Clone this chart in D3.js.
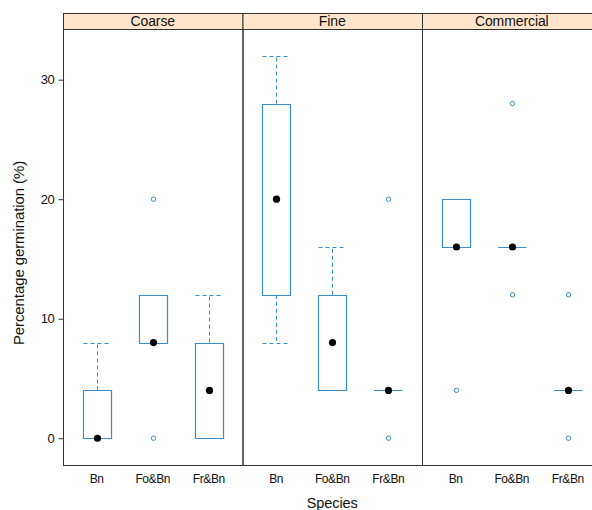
<!DOCTYPE html>
<html>
<head>
<meta charset="utf-8">
<script src="https://cdn.jsdelivr.net/npm/d3@7"></script>
<style>
  html, body { margin: 0; padding: 0; background: #fff; overflow: hidden; }
  svg { display: block; font-family: "Liberation Sans", Arial, sans-serif; }
</style>
</head>
<body>
<svg id="chart" width="592" height="510"></svg>
<script>
// Panels (seed type) and species within each panel
const panels = ["Coarse", "Fine", "Commercial"];
const species = ["Bn", "Fo&Bn", "Fr&Bn"];

// Box statistics per panel, one entry per species: [lower whisker, Q1, median, Q3, upper whisker]
const coarseStats     = [[0, 0, 0, 4, 8], [8, 8, 8, 12, 12], [0, 0, 4, 8, 12]];
const fineStats       = [[8, 12, 20, 28, 32], [4, 4, 8, 12, 16], [4, 4, 4, 4, 4]];
const commercialStats = [[16, 16, 16, 20, 20], [16, 16, 16, 16, 16], [4, 4, 4, 4, 4]];

// Outlying observations per panel, one list per species
const coarseOut     = [[], [20, 0], []];
const fineOut       = [[], [], [20, 0]];
const commercialOut = [[4], [28, 12], [12, 0]];

const yTicks = [0, 10, 20, 30];

const statsByPanel = [coarseStats, fineStats, commercialStats];
const outByPanel = [coarseOut, fineOut, commercialOut];

const boxCol = "#3a8dcc";
const frameCol = "#333";
const stripFill = "#ffe5cc";

const svg = d3.select("#chart");

const plotLeft = 63, panelW = 179.5, plotTop = 29, plotBottom = 465, stripH = 16;

const y = d3.scaleLinear().domain([-2.24, 34.24]).range([plotBottom, plotTop]);
const xPanel = d3.scaleBand().domain(panels).range([plotLeft, plotLeft + panelW * panels.length]).padding(0);

panels.forEach((p, pi) => {
  const x0 = xPanel(p);
  const x = d3.scaleLinear().domain([0.4, 3.6]).range([x0, x0 + panelW]);
  const unit = x(1) - x(0);
  const half = unit * 0.25;
  const g = svg.append("g");

  // strip header
  g.append("rect")
    .attr("x", x0 + 0.5).attr("y", plotTop - stripH + 0.5)
    .attr("width", panelW).attr("height", stripH)
    .attr("fill", stripFill).attr("stroke", frameCol).attr("stroke-width", 1);
  g.append("text")
    .attr("x", x0 + panelW / 2).attr("y", plotTop - stripH / 2 + 5)
    .attr("text-anchor", "middle").attr("font-size", 14).attr("fill", "#111")
    .attr("letter-spacing", -0.1)
    .text(p);

  const stats = statsByPanel[pi];
  const outs = outByPanel[pi];

  species.forEach((s, si) => {
    const [lo, q1, med, q3, hi] = stats[si];
    const cx = Math.round(x(si + 1)) + 0.5;
    // whiskers
    const dash = "4,3";
    [[q3, hi], [q1, lo]].forEach(([a, b]) => {
      g.append("line")
        .attr("x1", cx).attr("x2", cx)
        .attr("y1", y(a)).attr("y2", y(b))
        .attr("stroke", boxCol).attr("stroke-dasharray", dash);
      g.append("line")
        .attr("x1", cx - half).attr("x2", cx + half)
        .attr("y1", Math.round(y(b)) + 0.5).attr("y2", Math.round(y(b)) + 0.5)
        .attr("stroke", boxCol).attr("stroke-dasharray", dash);
    });
    // box (a path, so a box with equal quartiles still shows as a line)
    const yt = Math.round(y(q3)) + 0.5, yb = Math.round(y(q1)) + 0.5;
    const bx = d3.path();
    bx.moveTo(cx - half, yt);
    bx.lineTo(cx + half, yt);
    bx.lineTo(cx + half, yb);
    bx.lineTo(cx - half, yb);
    bx.closePath();
    g.append("path")
      .attr("d", bx.toString())
      .attr("fill", "none").attr("stroke", boxCol).attr("stroke-width", 1.2);
    // outliers
    outs[si].forEach(v => {
      g.append("circle")
        .attr("cx", cx).attr("cy", y(v)).attr("r", 2.2)
        .attr("fill", "none").attr("stroke", boxCol).attr("stroke-width", 1);
    });
    // median dot
    g.append("circle")
      .attr("cx", cx).attr("cy", y(med)).attr("r", 3.6)
      .attr("fill", "#000");
  });

  // panel frame
  g.append("rect")
    .attr("x", x0 + 0.5).attr("y", plotTop + 0.5)
    .attr("width", panelW).attr("height", plotBottom - plotTop)
    .attr("fill", "none").attr("stroke", frameCol).attr("stroke-width", 1);

  // category labels
  g.selectAll("text.cat").data(species).enter().append("text")
    .attr("class", "cat")
    .attr("x", (d, i) => x(i + 1)).attr("y", 483)
    .attr("text-anchor", "middle").attr("font-size", 12).attr("fill", "#111")
    .attr("letter-spacing", -0.4)
    .text(d => d);
});

// left axis with ticks and labels
const yAxis = d3.axisLeft(y).tickValues(yTicks).tickSize(5).tickPadding(4).tickFormat(d3.format("d"));
const ax = svg.append("g").attr("transform", `translate(${plotLeft + 0.5},0)`).call(yAxis);
ax.select(".domain").remove();
ax.selectAll("line").attr("stroke", frameCol);
ax.selectAll("text").attr("font-size", 13).attr("fill", "#111")
  .attr("font-family", "Liberation Sans, Arial, sans-serif").attr("letter-spacing", -0.3);

// axis titles
svg.append("text")
  .attr("transform", "translate(19,253) rotate(-90)")
  .attr("text-anchor", "middle").attr("dy", "0.35em")
  .attr("font-size", 15).attr("fill", "#111").attr("letter-spacing", -0.1)
  .text("Percentage germination (%)");
svg.append("text")
  .attr("x", plotLeft + panelW * 1.5).attr("y", 508)
  .attr("text-anchor", "middle").attr("font-size", 14.5).attr("fill", "#111")
  .attr("letter-spacing", -0.1)
  .text("Species");
</script>
</body>
</html>
